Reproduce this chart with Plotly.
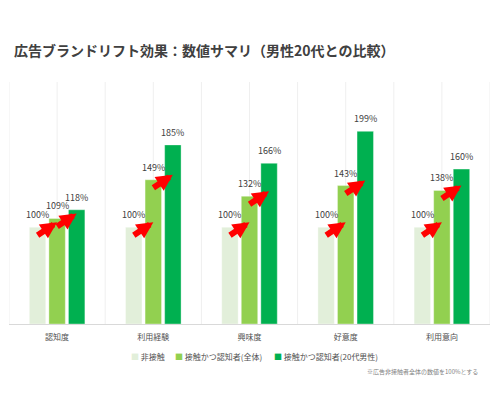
import plotly.graph_objects as go

categories = ["認知度", "利用経験", "興味度", "好意度", "利用意向"]
series_names = ["非接触", "接触かつ認知者(全体)", "接触かつ認知者(20代男性)"]
non_contact = [100, 100, 100, 100, 100]
aware_all = [109, 149, 132, 143, 138]
aware_m20 = [118, 185, 166, 199, 160]
colors = ["#e2efda", "#92d050", "#00b050"]

title_text = "広告ブランドリフト効果：数値サマリ（男性20代との比較）"
footnote = "※広告非接触者全体の数値を100%とする"

FONT = "Noto Sans CJK JP"
BARGAP = 0.39
BARGROUPGAP = 0.16

series = [non_contact, aware_all, aware_m20]
fig = go.Figure()
for name, vals, col in zip(series_names, series, colors):
    fig.add_trace(go.Bar(
        x=categories, y=vals, name=name,
        marker=dict(color=col, line=dict(color="rgba(255,255,255,0.6)", width=0.6)),
        cliponaxis=False, showlegend=False, hoverinfo="skip",
    ))

# vertical gridlines (every half category)
shapes = []
n = len(categories)
for k in range(2 * n + 1):
    xv = -0.5 + 0.5 * k
    shapes.append(dict(type="line", xref="x", yref="paper", x0=xv, x1=xv, y0=0, y1=1,
                       line=dict(color="#efefef", width=1), layer="below"))

annotations = []
slot = (1 - BARGAP) / 3
# value labels
for si, vals in enumerate(series):
    for ci, v in enumerate(vals):
        annotations.append(dict(
            x=ci + (si - 1) * slot, y=v, xref="x", yref="y", yanchor="bottom", yshift=4,
            showarrow=False, text=f"{v}%",
            font=dict(size=9, color="#404040", family=FONT),
        ))
# red arrows between consecutive bars
for ci in range(n):
    for i in range(2):
        prev_v = series[i][ci]
        head_x = ci + i * slot
        annotations.append(dict(
            x=head_x, y=prev_v, xref="x", yref="y", yshift=5,
            ax=-21, ay=14, axref="pixel", ayref="pixel",
            showarrow=True, arrowhead=2, arrowsize=0.55, arrowwidth=6,
            arrowcolor="#ff0000", text="",
        ))

PL, PW, PT, PH = 9, 481, 82, 242

def px_x(p):
    return (p - PL) / PW

def px_y(p):
    return (PT + PH - p) / PH

legend_x = [129, 173, 272]
for name, col, lx in zip(series_names, colors, legend_x):
    annotations.append(dict(
        xref="paper", yref="paper", x=px_x(lx), y=px_y(357), xanchor="left", yanchor="middle",
        showarrow=False,
        text=f"<span style='color:{col}'>■</span> {name}",
        font=dict(size=8, color="#505050", family=FONT),
    ))

annotations.append(dict(
    xref="paper", yref="paper", x=px_x(480), y=px_y(371), xanchor="right", yanchor="middle",
    showarrow=False, text=footnote, font=dict(size=6, color="#7f7f7f", family=FONT),
))

fig.update_layout(
    width=500, height=397,
    margin=dict(l=PL, r=500 - PL - PW, t=PT, b=397 - PT - PH),
    paper_bgcolor="white", plot_bgcolor="white",
    barmode="group", bargap=BARGAP, bargroupgap=BARGROUPGAP,
    title=dict(text=title_text, xref="container", yref="container", x=14 / 500, xanchor="left",
               y=1 - 51 / 397, yanchor="middle",
               font=dict(size=14, color="#404040", family=FONT, weight="bold")),
    xaxis=dict(showgrid=False, showline=True, linecolor="#d9d9d9", linewidth=1,
               ticks="", ticklabelstandoff=5,
               tickfont=dict(size=8, color="#505050", family=FONT),
               range=[-0.5, n - 0.5]),
    yaxis=dict(range=[0, 250], visible=False, showgrid=False, zeroline=False),
    shapes=shapes, annotations=annotations,
    font=dict(family=FONT),
    hovermode=False,
)

fig.write_html("out.html", config={"displayModeBar": False},
               post_script="document.body.style.margin='0';")
